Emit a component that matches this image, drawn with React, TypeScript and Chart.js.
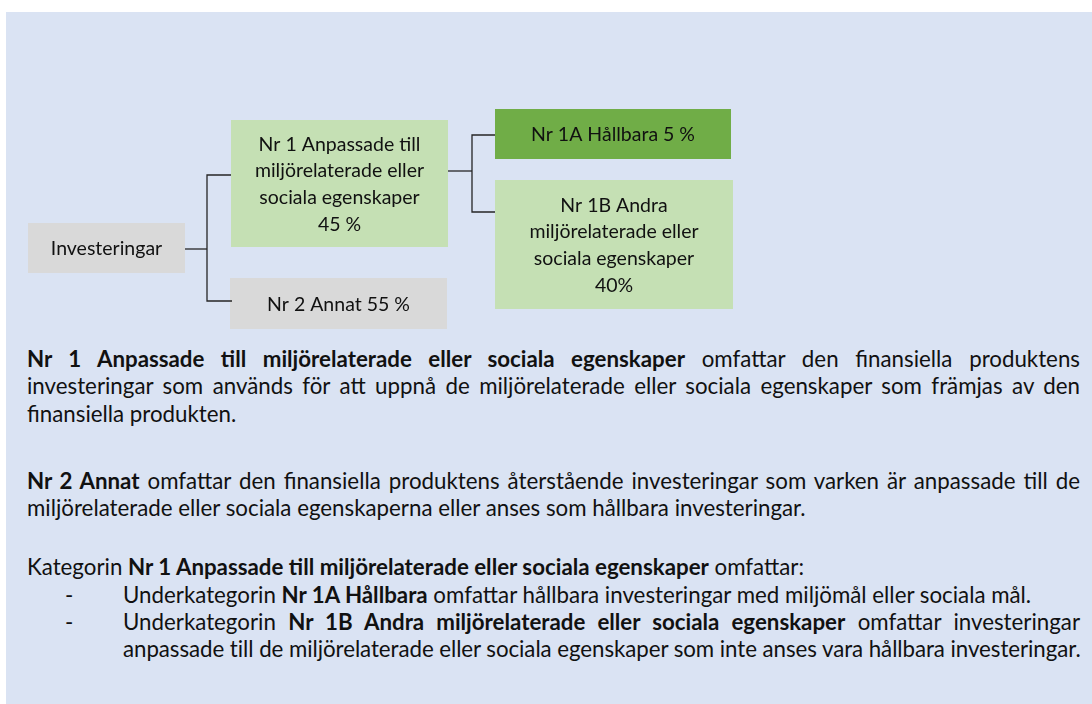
import React, { useEffect, useRef } from "react";
import { Chart, registerables } from "chart.js";

Chart.register(...registerables);

// ---- data ----
const categories = ["Investeringar", "Nr 1", "Nr 2", "Nr 1A", "Nr 1B"];
const shares = [100, 45, 55, 5, 40];
const boxLabels: string[][] = [
  ["Investeringar"],
  ["Nr 1 Anpassade till", "miljörelaterade eller", "sociala egenskaper", `${shares[1]} %`],
  [`Nr 2 Annat ${shares[2]} %`],
  [`Nr 1A Hållbara ${shares[3]} %`],
  ["Nr 1B Andra", "miljörelaterade eller", "sociala egenskaper", `${shares[4]}%`],
];

// ---- layout (pixel-space scale units) ----
const boxRects = [
  { x0: 28, x1: 185, y0: 223, y1: 273 },
  { x0: 231, x1: 448, y0: 120, y1: 247 },
  { x0: 230, x1: 447, y0: 278, y1: 329 },
  { x0: 495, x1: 731, y0: 109, y1: 159 },
  { x0: 495, x1: 733, y0: 180, y1: 309 },
];
const boxColors = ["#d9d9d9", "#c5e0b4", "#d9d9d9", "#70ad47", "#c5e0b4"];
const connectors = [
  [{ x: 185, y: 249 }, { x: 207, y: 249 }],
  [{ x: 231, y: 175 }, { x: 207, y: 175 }, { x: 207, y: 301 }, { x: 232, y: 301 }],
  [{ x: 448, y: 171 }, { x: 472, y: 171 }],
  [{ x: 495, y: 135 }, { x: 472, y: 135 }, { x: 472, y: 212 }, { x: 495, y: 212 }],
];

const FONT = "Lato, 'Open Sans', sans-serif";
const BOX_FS = 19.5;
const FS = 22.3;

const boxPlugin = {
  id: "boxes",
  beforeDatasetsDraw(chart: any) {
    const { ctx, scales } = chart;
    const xs = scales.x;
    const ys = scales.y;
    ctx.save();
    boxRects.forEach((r, i) => {
      const px0 = xs.getPixelForValue(r.x0);
      const px1 = xs.getPixelForValue(r.x1);
      const py0 = ys.getPixelForValue(r.y0);
      const py1 = ys.getPixelForValue(r.y1);
      ctx.fillStyle = boxColors[i];
      ctx.fillRect(px0, py0, px1 - px0, py1 - py0);
      const lines = boxLabels[i];
      const cx = (px0 + px1) / 2;
      const cy = (py0 + py1) / 2;
      ctx.fillStyle = "#111111";
      ctx.font = `${BOX_FS}px ${FONT}`;
      ctx.textAlign = "center";
      ctx.textBaseline = "middle";
      const start = cy - ((lines.length - 1) * 26.7) / 2;
      lines.forEach((t, k) => ctx.fillText(t, cx, start + k * 26.7 + 1));
    });
    ctx.restore();
  },
};

function Diagram() {
  const ref = useRef<HTMLCanvasElement>(null);
  useEffect(() => {
    if (!ref.current) return;
    const chart = new Chart(ref.current, {
      type: "scatter",
      data: {
        datasets: connectors.map((pts, i) => ({
          label: `link${i}`,
          data: pts,
          showLine: true,
          borderColor: "#262626",
          borderWidth: 1.3,
          pointRadius: 0,
          tension: 0,
        })),
      },
      options: {
        responsive: false,
        animation: false,
        devicePixelRatio: 1,
        layout: { padding: 0 },
        plugins: { legend: { display: false }, tooltip: { enabled: false }, title: { display: false } },
        scales: {
          x: { type: "linear", min: 0, max: 1092, display: false },
          y: { type: "linear", min: 0, max: 340, reverse: true, display: false },
        },
      },
      plugins: [boxPlugin],
    } as any);
    return () => chart.destroy();
  }, []);
  return (
    <canvas
      ref={ref}
      width={1092}
      height={340}
      aria-label={categories.join(", ")}
      style={{ position: "absolute", left: 0, top: 0, width: 1092, height: 340 }}
    />
  );
}

const B = (t: string) => <b style={{ fontWeight: 700 }}>{t}</b>;

function Para({ top, left, width, lh, lines, lastSpacing = 0 }: { top: number; left: number; width: number; lh: number; lines: React.ReactNode[]; lastSpacing?: number }) {
  return (
    <div style={{ position: "absolute", top, left, width, fontFamily: FONT, fontSize: FS, lineHeight: `${lh}px`, color: "#111" }}>
      {lines.map((ln, i) => {
        const last = i === lines.length - 1;
        return (
          <div
            key={i}
            style={
              last
                ? { textAlign: "left", whiteSpace: "nowrap", letterSpacing: lastSpacing }
                : { textAlign: "justify", textAlignLast: "justify" as any }
            }
          >
            {ln}
          </div>
        );
      })}
    </div>
  );
}

export default function App() {
  return (
    <div style={{ position: "fixed", left: 0, top: 0, width: 1092, height: 704, background: "#ffffff", overflow: "hidden" }}>
      <div style={{ position: "absolute", left: 6, top: 12, right: 0, bottom: 0, background: "#dae3f3" }} />
      <Diagram />
      <Para
        top={344.5}
        left={27}
        width={1053}
        lh={27.7}
        lines={[
          <>{B("Nr 1 Anpassade till miljörelaterade eller sociala egenskaper")} omfattar den finansiella produktens</>,
          <>investeringar som används för att uppnå de miljörelaterade eller sociala egenskaper som främjas av den</>,
          <>finansiella produkten.</>,
        ]}
      />
      <Para
        top={466.5}
        left={27}
        width={1053}
        lh={27}
        lines={[
          <>{B("Nr 2 Annat")} omfattar den finansiella produktens återstående investeringar som varken är anpassade till de</>,
          <>miljörelaterade eller sociala egenskaperna eller anses som hållbara investeringar.</>,
        ]}
      />
      <Para
        top={552.5}
        left={27}
        width={1053}
        lh={27}
        lines={[<>Kategorin {B("Nr 1 Anpassade till miljörelaterade eller sociala egenskaper")} omfattar:</>]}
      />
      <Para top={581} left={65} width={40} lh={27} lines={["-"]} />
      <Para
        top={581}
        left={123}
        width={957}
        lh={27}
        lines={[<>Underkategorin {B("Nr 1A Hållbara")} omfattar hållbara investeringar med miljömål eller sociala mål.</>]}
      />
      <Para top={608} left={65} width={40} lh={27} lines={["-"]} />
      <Para
        top={608}
        left={123}
        width={957}
        lh={27}
        lastSpacing={-0.06}
        lines={[
          <>Underkategorin {B("Nr 1B Andra miljörelaterade eller sociala egenskaper")} omfattar investeringar</>,
          <>anpassade till de miljörelaterade eller sociala egenskaper som inte anses vara hållbara investeringar.</>,
        ]}
      />
    </div>
  );
}
